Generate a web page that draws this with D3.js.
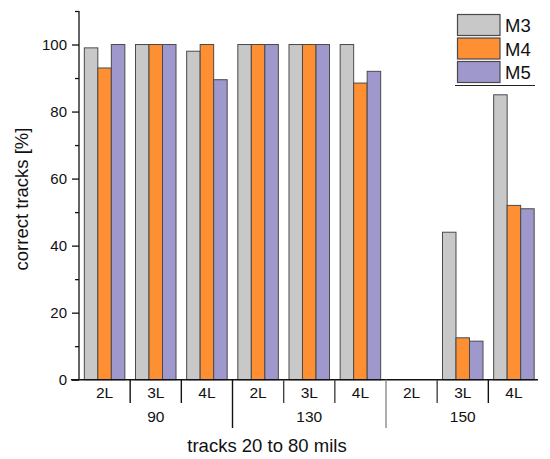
<!DOCTYPE html>
<html>
<head>
<meta charset="utf-8">
<script src="https://cdn.jsdelivr.net/npm/d3@7"></script>
<style>
  html, body { margin: 0; padding: 0; background: #fff; }
  svg { display: block; }
  text { font-family: "Liberation Sans", Arial, sans-serif; fill: #111; }
</style>
</head>
<body>
<script>
const categories = ["2L", "3L", "4L", "2L", "3L", "4L", "2L", "3L", "4L"];
const groups = ["90", "130", "150"];
const seriesNames = ["M3", "M4", "M5"];
const m3 = [99, 100, 98, 100, 100, 100, 0, 44, 85];
const m4 = [93, 100, 100, 100, 100, 88.5, 0, 12.5, 52];
const m5 = [100, 100, 89.5, 100, 100, 92, 0, 11.5, 51];
const yTicks = [0, 20, 40, 60, 80, 100];
const yMinorTicks = [10, 30, 50, 70, 90, 110];
const colors = ["#c8c8c8", "#fe8f33", "#9f98cc"];

const W = 550, H = 459;
const svg = d3.select("body").append("svg").attr("width", W).attr("height", H);

const idx = categories.map((_, i) => i);
const x0 = d3.scaleBand().domain(idx).range([79, 539.5]).padding(0);
const pad = x0.bandwidth() * 0.104;
const x1 = d3.scaleBand().domain(seriesNames).range([pad, x0.bandwidth() - pad]).padding(0);
const y = d3.scaleLinear().domain([0, 110]).range([379.7, 11]);

const series = [m3, m4, m5];

// bars
seriesNames.forEach((name, si) => {
  svg.append("g").selectAll("rect")
    .data(series[si].map((v, i) => ({ v, i })).filter(d => d.v > 0))
    .join("rect")
    .attr("x", d => x0(d.i) + x1(name))
    .attr("y", d => y(d.v))
    .attr("width", x1.bandwidth())
    .attr("height", d => y(0) - y(d.v))
    .attr("fill", colors[si])
    .attr("stroke", "#4a4a4a")
    .attr("stroke-width", 1);
});

// y axis
const yAxis = d3.axisLeft(y).tickValues(yTicks).tickSize(7).tickPadding(5).tickFormat(d3.format("d"));
const gy = svg.append("g").attr("transform", "translate(79,0)").call(yAxis);
gy.select(".domain").attr("d", `M0,${y(110)}V${y(0)}`).attr("stroke", "#111").attr("stroke-width", 1.3);
gy.selectAll(".tick line").attr("stroke", "#111").attr("stroke-width", 1.3);
gy.selectAll(".tick text").style("font-size", "15px").style("font-family", "Liberation Sans, Arial, sans-serif").attr("fill", "#111");
const gyMinor = svg.append("g").attr("transform", "translate(79,0)")
  .call(d3.axisLeft(y).tickValues(yMinorTicks).tickSize(4).tickFormat(""));
gyMinor.select(".domain").remove();
gyMinor.selectAll(".tick line").attr("stroke", "#111").attr("stroke-width", 1.3);

// x axis baseline
svg.append("line").attr("x1", 71).attr("x2", 538).attr("y1", y(0)).attr("y2", y(0))
  .attr("stroke", "#111").attr("stroke-width", 1.5);

// category separators
const boundaries = d3.range(1, categories.length);
svg.append("g").selectAll("line").data(boundaries).join("line")
  .attr("x1", b => x0(b)).attr("x2", b => x0(b))
  .attr("y1", y(0))
  .attr("y2", b => (b % 3 === 0 ? 428 : 403))
  .attr("stroke", b => (b === 6 ? "#8a8a8a" : (b === 4 || b === 5 || b === 7) ? "#444" : "#111"))
  .attr("stroke-width", 1.4);

// category labels
svg.append("g").selectAll("text").data(idx).join("text")
  .attr("x", i => x0(i) + x0.bandwidth() / 2)
  .attr("y", 397.5)
  .attr("text-anchor", "middle")
  .style("font-size", "15.5px")
  .text(i => categories[i]);

// group labels
svg.append("g").selectAll("text").data(groups).join("text")
  .attr("x", (g, gi) => x0(gi * 3) + x0.bandwidth() * 1.5)
  .attr("y", 421.5)
  .attr("text-anchor", "middle")
  .style("font-size", "15.5px")
  .text(g => g);

// axis titles
svg.append("text").attr("x", 267).attr("y", 451.5).attr("text-anchor", "middle")
  .style("font-size", "18.5px").text("tracks 20 to 80 mils");
svg.append("text").attr("transform", "translate(28,199) rotate(-90)").attr("text-anchor", "middle")
  .style("font-size", "18.5px").text("correct tracks [%]");

// legend
const lg = svg.append("g");
const legendY = [14.5, 38, 61.5];
seriesNames.forEach((name, si) => {
  lg.append("rect").attr("x", 457.5).attr("y", legendY[si]).attr("width", 42.5).attr("height", 21)
    .attr("fill", colors[si]).attr("stroke", "#4a4a4a").attr("stroke-width", 1.2);
  lg.append("text").attr("x", 505).attr("y", legendY[si] + 17.5)
    .style("font-size", "18.5px").text(name);
});
lg.append("line").attr("x1", 455).attr("x2", 535).attr("y1", 85.5).attr("y2", 85.5)
  .attr("stroke", "#222").attr("stroke-width", 1.2);
</script>
</body>
</html>
